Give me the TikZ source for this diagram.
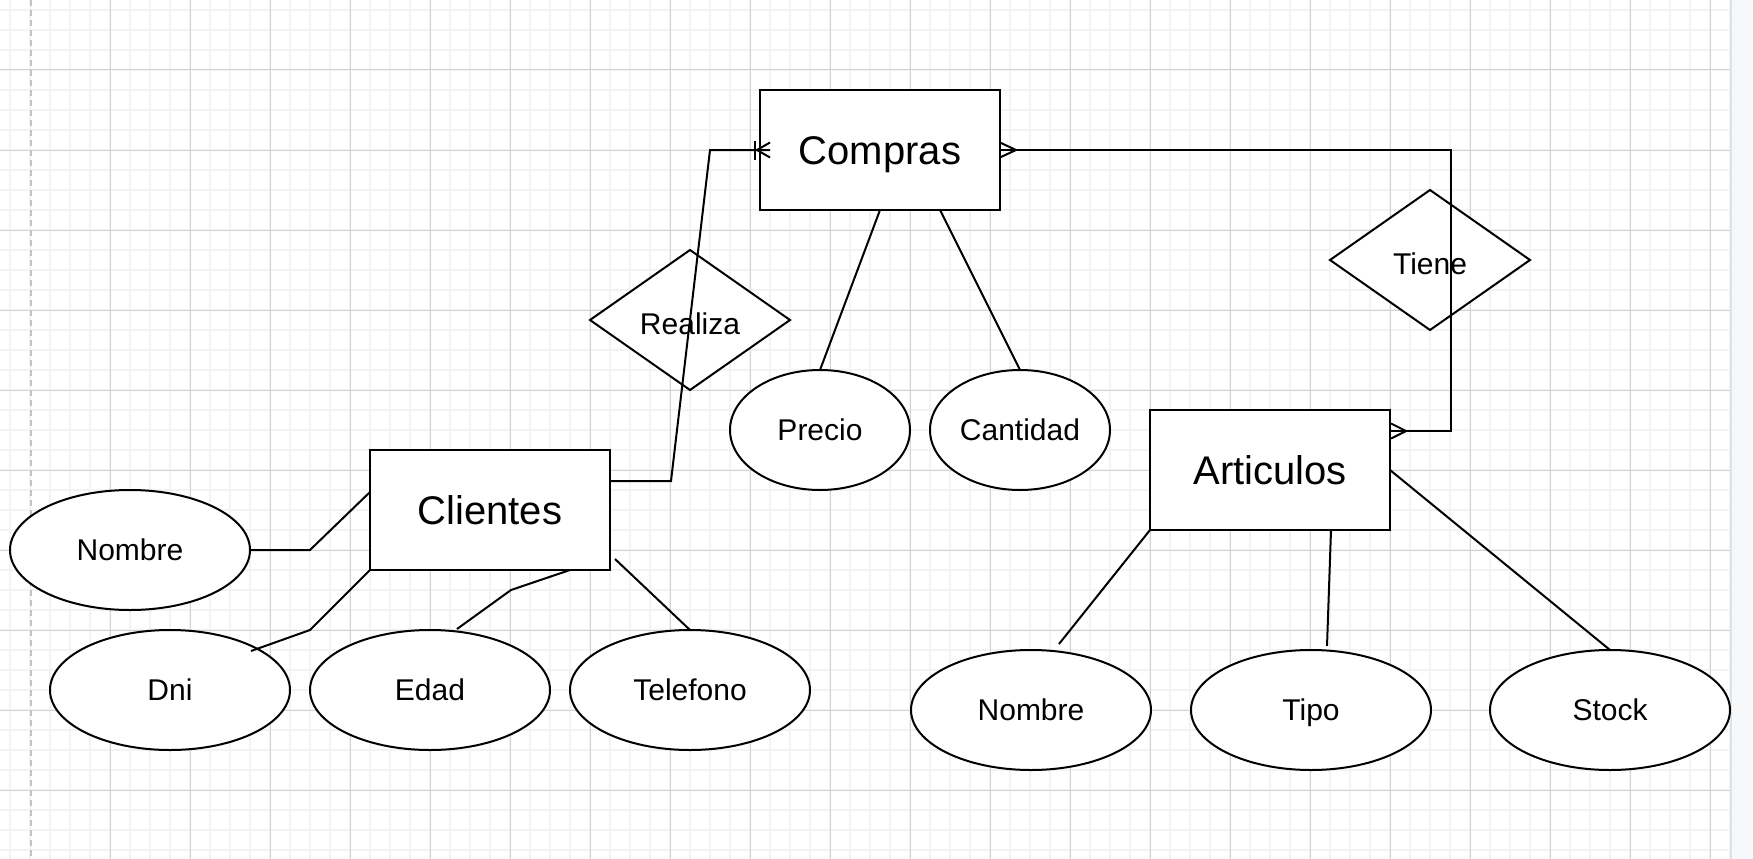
\documentclass[tikz,border=0pt]{standalone}
\usepackage{fontspec}
\setmainfont{Liberation Sans}
\usetikzlibrary{shapes.geometric,calc}
\definecolor{minorgrid}{RGB}{243,243,243}
\definecolor{majorgrid}{RGB}{210,210,210}
\definecolor{dashgrid}{RGB}{195,195,195}
\definecolor{panelbg}{RGB}{247,248,250}
\definecolor{panelline}{RGB}{225,226,228}
\begin{document}
\begin{tikzpicture}[x=1pt,y=-1pt,
  entity/.style={draw=black,line width=2pt,fill=white,minimum width=240pt,minimum height=120pt,
    inner sep=0pt,outer sep=0pt,font=\fontsize{40}{48}\selectfont,text height=28.6pt,text depth=0pt},
  attr/.style={ellipse,draw=black,line width=2pt,fill=white,minimum width=240pt,minimum height=120pt,
    inner sep=0pt,outer sep=0pt,font=\fontsize{30}{36}\selectfont,text height=21.5pt,text depth=0pt},
  rel/.style={diamond,draw=black,line width=2pt,fill=white,minimum width=200pt,minimum height=140pt,
    inner sep=0pt,outer sep=0pt,font=\fontsize{30}{36}\selectfont,text height=29.5pt,text depth=0pt},
  link/.style={draw=black,line width=2pt,line join=miter},
  minorline/.style={draw=minorgrid,line width=2pt},
  majorline/.style={draw=majorgrid,line width=1pt}
]
% canvas
\fill[white] (0,0) rectangle (1753,859);
\useasboundingbox (0,0) rectangle (1753,859);
% grid
\foreach \x in {10,30,...,1730} \draw[minorline] (\x,0) -- (\x,859);
\foreach \y in {10,30,...,850} \draw[minorline] (0,\y) -- (1730,\y);
\foreach \x in {110,190,...,1710} \draw[majorline] (\x,0) -- (\x,859);
\foreach \y in {70,150,...,830} \draw[majorline] (0,\y) -- (1730,\y);
\draw[dashgrid,line width=1.3pt,dash pattern=on 6pt off 4pt] (31,0) -- (31,859);
% right panel
\fill[panelbg] (1730,0) rectangle (1753,859);
\draw[panelline,line width=1.5pt] (1730.75,0) -- (1730.75,859);

% entities
\node[entity] (compras) at (880,150) {Compras};
\node[entity] (clientes) at (490,510) {Clientes};
\node[entity] (articulos) at (1270,470) {Articulos};
% relationships
\node[rel] (realiza) at (690,320) {Realiza};
\node[rel] (tiene) at (1430,260) {Tiene};
% attributes
\node[attr,minimum width=180pt] (precio) at (820,430) {Precio};
\node[attr,minimum width=180pt] (cantidad) at (1020,430) {Cantidad};
\node[attr] (nombrec) at (130,550) {Nombre};
\node[attr] (dni) at (170,690) {Dni};
\node[attr] (edad) at (430,690) {Edad};
\node[attr] (telefono) at (690,690) {Telefono};
\node[attr] (nombrea) at (1031,710) {Nombre};
\node[attr] (tipo) at (1311,710) {Tipo};
\node[attr] (stock) at (1610,710) {Stock};

% Clientes -> Compras (Realiza)
\coordinate (w1) at (671,481);
\coordinate (w2) at (710,150);
\coordinate (cfA) at (770,150);
\draw[link] (clientes.east |- w1) -- (w1) -- (w2) -- (cfA);
\draw[link] ($(cfA)+(0,-7.5)$) -- ($(cfA)+(-13,0)$) -- ($(cfA)+(0,7.5)$);
\draw[link] ($(cfA)+(-15,-9.5)$) -- ($(cfA)+(-15,9.5)$);

% Compras -> Articulos (Tiene)
\coordinate (t1) at (1451,150);
\coordinate (t2) at (1451,431);
\draw[link] (compras.east) -- (t1) -- (t2) -- (articulos.east |- t2);
\draw[link] ($(compras.east)+(1,-7)$) -- ($(compras.east)+(16,0)$) -- ($(compras.east)+(1,7)$);
\draw[link] ($(articulos.east |- t2)+(1,-7.5)$) -- ($(articulos.east |- t2)+(16,0)$) -- ($(articulos.east |- t2)+(1,7.5)$);

% Compras attributes
\draw[link] (compras.south) -- (precio.north);
\draw[link] ($(compras.south west)!0.75!(compras.south east)$) -- (cantidad.north);

% Clientes attributes
\coordinate (n1) at (310,550);
\draw[link] ($(clientes.north west)!0.35!(clientes.south west)$) -- (n1) -- (nombrec.east);
\coordinate (d1) at (310,630);
\coordinate (d2) at (251,651);
\draw[link] (clientes.south west) -- (d1) -- (d2);
\coordinate (e1) at (511,590);
\coordinate (e2) at (457,629);
\draw[link] ($(clientes.south east)+(-40,0)$) -- (e1) -- (e2);
\coordinate (f1) at (615,559);
\draw[link] (f1) -- (telefono.north);

% Articulos attributes
\coordinate (g1) at (1059,644);
\draw[link] (articulos.south west) -- (g1);
\coordinate (h1) at (1327,646);
\draw[link] ($(articulos.south west)+(181,0)$) -- (h1);
\draw[link] (articulos.east) -- (stock.north);
\end{tikzpicture}
\end{document}
